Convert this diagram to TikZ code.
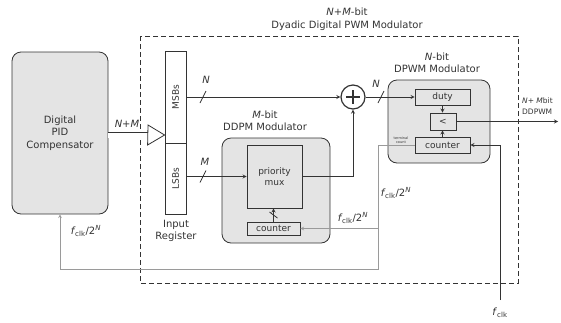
\documentclass[tikz,border=0pt]{standalone}
\usepackage{fontspec}
\setmainfont{DejaVu Sans}
\definecolor{boxgray}{HTML}{E4E4E4}
\definecolor{inkgray}{HTML}{333333}
\definecolor{clkgray}{HTML}{9A9A9A}
\tikzset{
  modblock/.style={draw=inkgray, thick, rectangle, rounded corners=9, fill=boxgray},
  subblock/.style={draw=inkgray, thick, rectangle, fill=boxgray, inner sep=0, text=inkgray, font=\fontsize{9}{10.5}\selectfont, align=center},
  busline/.style={thick, draw=inkgray, >=stealth},
  clkline/.style={semithick, draw=clkgray, >=stealth},
  lbl/.style={text=inkgray, font=\fontsize{10}{12.5}\selectfont, align=center, inner sep=1pt}
}
\newcommand{\clkdiv}{\textit{f}\textsubscript{\kern-.5pt clk}/2\textsuperscript{\textit{N}}}

\begin{document}
\begin{tikzpicture}[x=1pt,y=-1pt]
    \useasboundingbox (0,0) rectangle (561,322);
    \draw[inkgray, thick, dash pattern=on 5pt off 3pt] (140,36) rectangle (518,283);
    \node[lbl] (title) at (347,19) {\textit{N+M}-bit\\Dyadic Digital PWM Modulator};

    \node[modblock, lbl, minimum width=96pt, minimum height=162pt] (pid) at (60,133) {Digital\\PID\\Compensator};

    \node[subblock, fill=white, minimum width=21pt, minimum height=92pt] (msb) at (175.5,97) {\rotatebox{90}{MSBs}};
    \node[subblock, fill=white, minimum width=21pt, minimum height=71pt] (lsb) at (175.5,178.5) {\rotatebox{90}{LSBs}};
    \node[lbl] (reg) at (176,231) {Input\\Register};

    \coordinate (busin) at (148,135);
    \draw[inkgray, thick, double=white, double distance=5pt] (pid.east |- busin) -- (busin);
    \draw[inkgray, thick, fill=white] (busin) ++(0,-10) -- (msb.west |- busin) -- ++(-17,10) -- cycle;
    \node[lbl] (nm) at (127,124) {\textit{N+M}};

    \node[draw=inkgray, very thick, circle, minimum size=24pt, inner sep=0, fill=white] (add) at (353,97) {};
    \draw[inkgray, line width=2.2pt] (add.center) ++(-7,0) -- ++(14,0) (add.center) ++(0,-7) -- ++(0,14);

    % DDPM
    \node[modblock, minimum width=108pt, minimum height=105pt] (ddpm) at (276,190.5) {};
    \node[lbl] (ddpmt) at (265,121) {\textit{M}-bit\\DDPM Modulator};
    \node[subblock, minimum width=55pt, minimum height=63pt] (mux) at (274.5,176.5) {priority\\mux};
    \node[subblock, minimum width=53pt, minimum height=13pt] (dcnt) at (273.5,228.5) {counter};

    % DPWM
    \node[modblock, minimum width=102pt, minimum height=83pt] (dpwm) at (439,121.5) {};
    \node[lbl] (dpwmt) at (437,63) {\textit{N}-bit\\DPWM Modulator};
    \node[subblock, minimum width=55pt, minimum height=16pt] (duty) at (442.5,97) {duty};
    \node[subblock, minimum width=26pt, minimum height=17pt] (cmp) at (443,121.5) {<};
    \node[subblock, minimum width=55pt, minimum height=16pt] (cnt) at (442.5,145) {counter};
    \node[lbl, font=\fontsize{3.5}{4}\selectfont] (tcnt) at (401,140) {terminal\\count};

    \draw[busline,->] (msb.east) -- (add.west);
    \draw[busline] (203,97) ++(-3,6) -- ++(6,-12);
    \node[lbl] at (206,80) {\textit{N}};
    \draw[busline,->] (add.east) -- (duty.west);
    \draw[busline] (381,97) ++(-3,6) -- ++(6,-12);
    \node[lbl] at (376,84) {\textit{N}};
    \draw[busline,->] (lsb.east |- mux.west) -- (mux.west);
    \draw[busline] (203,176.5) ++(-3,6) -- ++(6,-12);
    \node[lbl] at (205,162) {\textit{M}};
    \draw[busline,->] (mux.east) -| (add.south);
    \draw[busline,->] (dcnt.north) -- (dcnt.north |- mux.south);
    \draw[busline] (273.5,215) ++(-4,-3) -- ++(8,6);

    \draw[busline,->] (duty.south) -- (duty.south |- cmp.north);
    \draw[busline,->] (cnt.north) -- (cnt.north |- cmp.south);
    \coordinate (out) at (558,121.5);
    \draw[busline,->] (cmp.east) -- (out);
    \node[lbl, anchor=west, align=left, font=\fontsize{7.5}{11}\selectfont] (outl) at (521,106) {\textit{N+ M}bit\\DDPWM};

    % clock paths
    \coordinate (tcturn) at (378,145);
    \coordinate (pidfb) at (60,269);
    \coordinate (tcbranch) at (378,228.5);
    \draw[clkline,->] (cnt.west) -- (tcturn) |- (pidfb) -- (pid.south);
    \draw[clkline,->] (tcbranch) -- (dcnt.east);
    \coordinate (clkin) at (500,300);
    \draw[busline,->] (clkin) |- (cnt.east);
    \node[lbl] (fclk) at (500,313) {\textit{f}\textsubscript{clk}};
    \node[lbl] (fb1) at (86,231) {\clkdiv};
    \node[lbl] (fb2) at (353,218) {\clkdiv};
    \node[lbl] (fb3) at (396,193) {\clkdiv};
\end{tikzpicture}
\end{document}
